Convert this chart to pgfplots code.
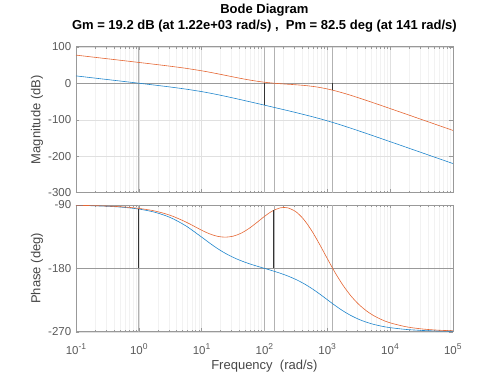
\documentclass[border=0pt]{standalone}
\usepackage{fontspec}
\setmainfont{Liberation Sans}
\usepackage{pgfplots}
\pgfplotsset{compat=1.18}
\usepackage{pgfplotstable}
\definecolor{mblue}{rgb}{0.12,0.52,0.80}
\definecolor{morange}{rgb}{0.90,0.40,0.20}
\definecolor{tickgray}{gray}{0.35}
\definecolor{labgray}{gray}{0.28}

\pgfplotstableread{
w bm bp om op
0.1 20.00 -90.58 76.94 -90.48
0.17783 15.00 -91.03 71.94 -90.86
0.31623 10.00 -91.83 66.94 -91.52
0.56234 4.99 -93.25 61.93 -92.70
1 -0.04 -95.77 56.90 -94.79
1.7783 -5.14 -100.18 51.80 -98.43
3.1623 -10.41 -107.73 46.54 -104.63
5.6234 -16.19 -119.67 40.78 -114.15
10 -23.01 -135.57 34.01 -125.79
13.335 -26.94 -143.90 30.15 -130.88
17.783 -31.19 -151.67 26.01 -134.42
23.714 -35.71 -158.50 21.70 -135.70
31.623 -40.42 -164.26 17.33 -134.33
42.170 -45.25 -169.07 13.08 -130.25
56.234 -50.15 -173.14 9.12 -123.63
74.989 -55.10 -176.69 5.62 -115.20
100 -60.09 -180.00 2.69 -106.26
133.35 -65.10 -183.31 0.41 -98.60
177.83 -70.15 -186.86 -1.37 -94.07
205.35 -72.69 -188.82 -2.12 -93.45
237.14 -75.25 -190.93 -2.83 -94.07
316.23 -80.42 -195.74 -4.26 -99.46
421.70 -85.71 -201.50 -5.98 -110.32
562.34 -91.19 -208.33 -8.30 -126.05
749.89 -96.94 -216.10 -11.48 -145.24
1000 -103.01 -224.43 -15.64 -165.87
1333.5 -109.44 -232.71 -20.76 -185.91
1778.3 -116.19 -240.33 -26.67 -203.80
2371.4 -123.21 -246.90 -33.18 -218.83
3162.3 -130.41 -252.27 -40.07 -230.93
4217.0 -137.74 -256.52 -47.23 -240.39
5623.4 -145.14 -259.82 -54.53 -247.67
7498.9 -152.58 -262.32 -61.91 -253.17
10000 -160.04 -264.23 -69.34 -257.36
17783 -175.01 -266.75 -84.28 -262.88
31623 -190.00 -268.17 -99.26 -265.99
56234 -205.00 -268.97 -114.26 -267.74
100000 -220.00 -269.42 -129.26 -268.74
}\bode

\newcommand{\tenpow}[1]{10\raisebox{0.42em}{\fontsize{8.5}{9}\selectfont #1}}

\pgfplotsset{
  bodestyle/.style={
    scale only axis, width=376.8pt,
    xmin=0.1, xmax=1e5,
    xtick={0.1,1,10,100,1000,10000,100000},
    minor xtick={0.2,0.3,0.4,0.5,0.6,0.7,0.8,0.9,
                 2,3,4,5,6,7,8,9,
                 20,30,40,50,60,70,80,90,
                 200,300,400,500,600,700,800,900,
                 2000,3000,4000,5000,6000,7000,8000,9000,
                 20000,30000,40000,50000,60000,70000,80000,90000},
    xmajorgrids, xminorgrids, ymajorgrids,
    major grid style={color=black!12, line width=0.4pt},
    minor grid style={color=black!5, line width=0.4pt},
    axis line style={color=black!40, line width=0.5pt},
    tick style={color=black!40, line width=0.4pt},
    major tick length=3.5pt, minor tick length=2pt,
    tick align=inside,
    yticklabel style={font=\fontsize{11.5}{13}\selectfont, text=tickgray, xshift=-1.2pt},
    xticklabel style={font=\fontsize{11.5}{13}\selectfont, text=tickgray, anchor=base, yshift=-22.3pt},
    every axis y label/.style={at={(rel axis cs:0,0.5)}, xshift=-39pt, rotate=90, anchor=center,
      font=\fontsize{13}{15}\selectfont, text=labgray},
    every axis x label/.style={at={(rel axis cs:0.5,0)}, yshift=-34pt, anchor=center,
      font=\fontsize{13}{15}\selectfont, text=labgray},
  },
}
\tikzset{
  mline/.style={black!80, line width=0.6pt},
  lline/.style={black!30, line width=0.5pt},
  hline/.style={black!40, line width=0.6pt},
}

\begin{document}
\begin{tikzpicture}[x=1pt,y=1pt]
\useasboundingbox (0,0) rectangle (500,375);

\begin{axis}[xmode=log, bodestyle,
  at={(76pt,182.3pt)}, anchor=south west, height=146pt,
  ymin=-300, ymax=100,
  ytick={-300,-200,-100,0,100},
  yticklabels={-300,-200,-100,0,100},
  xticklabels={},
  ylabel={Magnitude (dB)},
  title={Bode Diagram\\Gm = 19.2 dB (at 1.22e+03 rad/s) ,\ \ Pm = 82.5 deg (at 141 rad/s)},
  title style={at={(rel axis cs:0.5,1)}, anchor=south, inner sep=0pt, yshift=8.65pt,
    align=center, font=\fontsize{13}{16}\selectfont\bfseries, text=black},
]
\addplot[lline] coordinates {(0.995,-300) (0.995,100)};
\addplot[lline] coordinates {(100,-300) (100,100)};
\addplot[lline] coordinates {(141,-300) (141,100)};
\addplot[lline] coordinates {(1224,-300) (1224,100)};
\addplot[hline] coordinates {(0.1,0) (100000,0)};
\addplot[mblue, line width=0.6pt, smooth] table[x=w, y=bm] {\bode};
\addplot[morange, line width=0.6pt, smooth] table[x=w, y=om] {\bode};
\addplot[mline] coordinates {(100,0) (100,-60.09)};
\addplot[mline] coordinates {(1224,0) (1224,-19.2)};
\end{axis}

\begin{axis}[xmode=log, bodestyle,
  at={(76pt,43.3pt)}, anchor=south west, height=126.7pt,
  ymin=-270, ymax=-90,
  ytick={-270,-180,-90},
  yticklabels={-270,-180,-90},
  xticklabels={\tenpow{-1},\tenpow{0},\tenpow{1},\tenpow{2},\tenpow{3},\tenpow{4},\tenpow{5}},
  ylabel={Phase (deg)},
  xlabel={Frequency\ \ (rad/s)},
]
\addplot[lline] coordinates {(0.995,-270) (0.995,-90)};
\addplot[lline] coordinates {(100,-270) (100,-90)};
\addplot[lline] coordinates {(141,-270) (141,-90)};
\addplot[lline] coordinates {(1224,-270) (1224,-90)};
\addplot[hline] coordinates {(0.1,-180) (100000,-180)};
\addplot[mblue, line width=0.6pt, smooth] table[x=w, y=bp] {\bode};
\addplot[morange, line width=0.6pt, smooth] table[x=w, y=op] {\bode};
\addplot[mline] coordinates {(0.995,-180) (0.995,-95.7)};
\addplot[mline] coordinates {(141,-180) (141,-97.5)};
\end{axis}
\end{tikzpicture}
\end{document}
